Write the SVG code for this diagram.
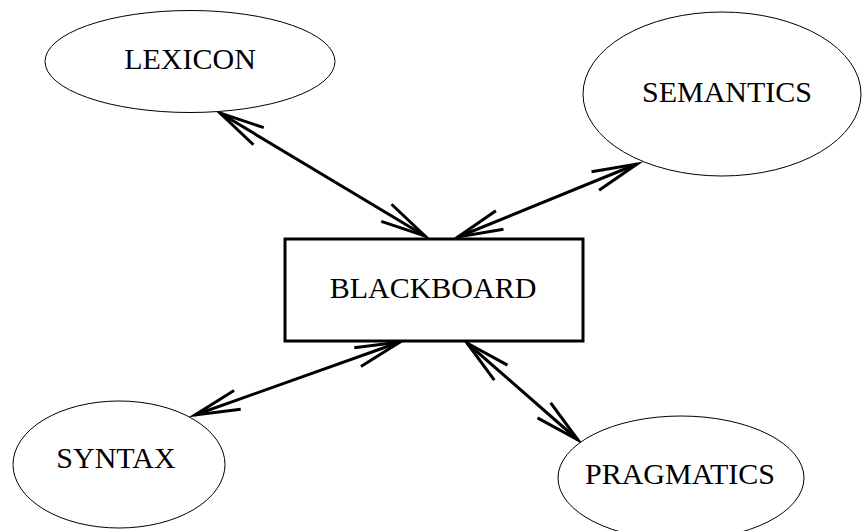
<svg xmlns="http://www.w3.org/2000/svg" width="862" height="531" viewBox="0 0 862 531">
  <style>
    .node-shape { fill: #ffffff; stroke: #000000; stroke-width: 1; }
    .board { fill: #ffffff; stroke: #000000; stroke-width: 3; }
    .label { font-family: "Liberation Serif", "Times New Roman", serif; font-size: 30px; fill: #000000; text-anchor: middle; }
    .link { stroke: #000000; stroke-width: 3; fill: none; marker-start: url(#openArrow); marker-end: url(#openArrow); }
  </style>
  <defs>
    <!-- open V-shaped arrowhead used at both ends of every connector -->
    <marker id="openArrow" markerUnits="userSpaceOnUse" markerWidth="60" markerHeight="30" viewBox="-50 -15 60 30" refX="0" refY="0" orient="auto-start-reverse" overflow="visible">
      <path d="M-45,-10 L0,0 L-45,10" fill="none" stroke="#000000" stroke-width="3" stroke-linejoin="miter" stroke-miterlimit="10"/>
    </marker>
  </defs>
  <rect x="0" y="0" width="862" height="531" fill="#ffffff"/>

  <g id="connectors">
    <line class="link" x1="220" y1="113" x2="425" y2="236"/>
    <line class="link" x1="637" y1="164" x2="458" y2="237"/>
    <line class="link" x1="400" y1="342" x2="195" y2="415"/>
    <line class="link" x1="467" y1="343" x2="578" y2="440"/>
  </g>

  <g id="lexicon">
    <ellipse class="node-shape" cx="190" cy="61.5" rx="145" ry="51"/>
    <text class="label" x="190" y="69">LEXICON</text>
  </g>

  <g id="semantics">
    <ellipse class="node-shape" cx="722" cy="94" rx="139" ry="82"/>
    <text class="label" x="727" y="102">SEMANTICS</text>
  </g>

  <g id="blackboard">
    <rect class="board" x="285" y="239" width="298" height="102"/>
    <text class="label" x="433" y="298">BLACKBOARD</text>
  </g>

  <g id="syntax">
    <ellipse class="node-shape" cx="119" cy="464.5" rx="106" ry="63.5"/>
    <text class="label" x="116" y="468">SYNTAX</text>
  </g>

  <g id="pragmatics">
    <ellipse class="node-shape" cx="681" cy="478" rx="123" ry="62"/>
    <text class="label" x="680" y="484">PRAGMATICS</text>
  </g>
</svg>
